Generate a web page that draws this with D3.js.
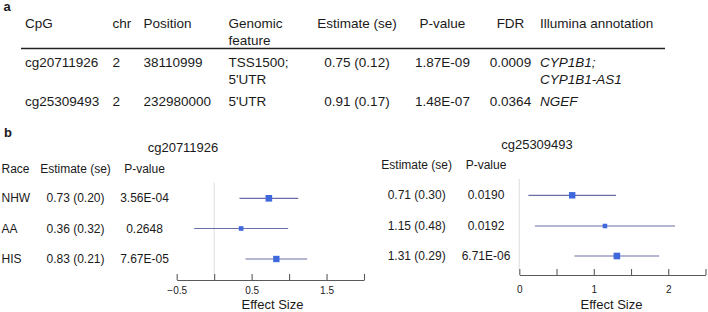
<!DOCTYPE html>
<html>
<head>
<meta charset="utf-8">
<script src="https://cdn.jsdelivr.net/npm/d3@7"></script>
<style>
  html, body { margin: 0; padding: 0; background: #fff; }
  svg { display: block; font-family: "Liberation Sans", Arial, Helvetica, sans-serif; }
</style>
</head>
<body>
<svg id="chart" width="708" height="312"></svg>
<script>
// ---------- Panel a: table data ----------
const tableHeaders = [["CpG"], ["chr"], ["Position"], ["Genomic", "feature"], ["Estimate (se)"], ["P-value"], ["FDR"], ["Illumina annotation"]];
const cpgIds = ["cg20711926", "cg25309493"];
const chromosomes = ["2", "2"];
const positions = ["38110999", "232980000"];
const genomicFeatures = [["TSS1500;", "5'UTR"], ["5'UTR"]];
const tableEstimates = [0.75, 0.91];
const tableSE = [0.12, 0.17];
const tablePValues = ["1.87E-09", "1.48E-07"];
const tableFDR = ["0.0009", "0.0364"];
const annotations = [["CYP1B1;", "CYP1B1-AS1"], ["NGEF"]];

// ---------- Panel b: forest plot data ----------
const races = ["NHW", "AA", "HIS"];
const est1 = [0.73, 0.36, 0.83];
const se1 = [0.20, 0.32, 0.21];
const pval1 = ["3.56E-04", "0.2648", "7.67E-05"];
const est2 = [0.71, 1.15, 1.31];
const se2 = [0.30, 0.48, 0.29];
const pval2 = ["0.0190", "0.0192", "6.71E-06"];
const ticks1 = [-0.5, 0, 0.5, 1, 1.5, 2];
const tickLabels1 = [-0.5, 0.5, 1.5];
const ticks2 = [0, 0.5, 1, 1.5, 2, 2.5];
const tickLabels2 = [0, 1, 2];

const svg = d3.select("#chart");
const textColor = "#1a1a1a";

// ---------- Panel a ----------
svg.append("text").attr("x", 3.5).attr("y", 6).attr("dominant-baseline", "central")
  .attr("font-size", 13).attr("font-weight", "bold").attr("fill", textColor).text("a");

const colX = [25, 112.5, 143.5, 228.5, 357, 442.5, 510.5, 540];
const colAnchor = ["start", "start", "start", "start", "middle", "middle", "middle", "start"];
const lineH = 17;
const headerY = 23.5;
const rowY = [62.5, 101];
const fs = 13.5;

const g = svg.append("g").attr("font-size", fs).attr("fill", textColor);

function cellText(x, y, lines, anchor, italic) {
  lines.forEach((t, i) => {
    g.append("text").attr("x", x).attr("y", y + i * lineH)
      .attr("dominant-baseline", "central").attr("text-anchor", anchor)
      .attr("font-style", italic ? "italic" : null).text(t);
  });
}

tableHeaders.forEach((h, i) => cellText(colX[i], headerY, h, colAnchor[i], false));
svg.append("line").attr("x1", 21).attr("x2", 665).attr("y1", 48.5).attr("y2", 48.5)
  .attr("stroke", "#222").attr("stroke-width", 1.3);

cpgIds.forEach((id, r) => {
  const y = rowY[r];
  cellText(colX[0], y, [id], colAnchor[0]);
  cellText(colX[1], y, [chromosomes[r]], colAnchor[1]);
  cellText(colX[2], y, [positions[r]], colAnchor[2]);
  cellText(colX[3], y, genomicFeatures[r], colAnchor[3]);
  cellText(colX[4], y, [`${tableEstimates[r].toFixed(2)} (${tableSE[r].toFixed(2)})`], colAnchor[4]);
  cellText(colX[5], y, [tablePValues[r]], colAnchor[5]);
  cellText(colX[6], y, [tableFDR[r]], colAnchor[6]);
  cellText(colX[7], y, annotations[r], colAnchor[7], true);
});

// ---------- Panel b ----------
svg.append("text").attr("x", 4).attr("y", 132.5).attr("dominant-baseline", "central")
  .attr("font-size", 13).attr("font-weight", "bold").attr("fill", textColor).text("b");

const boxColor = "#3f68dc";
const ciColor = "#6b6ea6";
const zeroColor = "#e4e4e4";
const axisColor = "#5a5a5a";

function forest(opts) {
  const { title, titleX, titleY, headerY, rowYs, baseline, est, se, pvals,
          showRace, estX, pX, domain, range, ticks, tickLabels, tickPad, xTitleX } = opts;
  const x = d3.scaleLinear().domain(domain).range(range);
  const maxW = d3.max(se, s => 1 / s);
  const size = d3.scalePow().exponent(0.75).domain([0, maxW]).range([0, 6.6]);
  const p = svg.append("g").attr("fill", textColor);

  p.append("text").attr("x", titleX).attr("y", titleY).attr("text-anchor", "middle")
    .attr("dominant-baseline", "central").attr("font-size", 13).text(title);

  const hdr = p.append("g").attr("font-size", 12);
  if (showRace) hdr.append("text").attr("x", 1.5).attr("y", headerY).attr("dominant-baseline", "central").text("Race");
  hdr.append("text").attr("x", estX).attr("y", headerY).attr("text-anchor", "middle").attr("dominant-baseline", "central").text("Estimate (se)");
  hdr.append("text").attr("x", pX).attr("y", headerY).attr("text-anchor", "middle").attr("dominant-baseline", "central").text("P-value");

  // zero reference line
  p.append("line").attr("x1", x(0)).attr("x2", x(0))
    .attr("y1", headerY + 14).attr("y2", baseline - 6)
    .attr("stroke", zeroColor).attr("stroke-width", 1.3);

  est.forEach((e, i) => {
    const y = rowYs[i];
    if (showRace) p.append("text").attr("x", 1.5).attr("y", y).attr("font-size", 12)
      .attr("dominant-baseline", "central").text(races[i]);
    p.append("text").attr("x", estX).attr("y", y).attr("font-size", 12).attr("text-anchor", "middle")
      .attr("dominant-baseline", "central").text(`${e.toFixed(2)} (${se[i].toFixed(2)})`);
    p.append("text").attr("x", pX).attr("y", y).attr("font-size", 12).attr("text-anchor", "middle")
      .attr("dominant-baseline", "central").text(pvals[i]);
    const lo = e - 1.96 * se[i], hi = e + 1.96 * se[i];
    p.append("line").attr("x1", x(lo)).attr("x2", x(hi)).attr("y1", y).attr("y2", y)
      .attr("stroke", ciColor).attr("stroke-width", 1.2);
    const s = size(1 / se[i]);
    p.append("rect").attr("x", x(e) - s / 2).attr("y", y - s / 2).attr("width", s).attr("height", s)
      .attr("fill", boxColor);
  });

  const axis = d3.axisBottom(x).tickValues(ticks)
    .tickFormat(d => tickLabels.includes(d) ? d3.format("")(d) : "")
    .tickSizeInner(-6).tickSizeOuter(0).tickPadding(tickPad);
  const ag = svg.append("g").attr("transform", `translate(0,${baseline})`).call(axis);
  ag.attr("font-family", null);
  ag.select(".domain").attr("stroke", axisColor).attr("stroke-width", 1.1);
  ag.selectAll(".tick line").attr("stroke", axisColor).attr("stroke-width", 1.1);
  ag.selectAll(".tick text").attr("font-size", 10).attr("fill", textColor);

  svg.append("text").attr("x", xTitleX).attr("y", 304)
    .attr("text-anchor", "middle").attr("dominant-baseline", "central")
    .attr("font-size", 13).attr("fill", textColor).text("Effect Size");
}

forest({
  title: "cg20711926", titleX: 183, titleY: 147, headerY: 168.5,
  rowYs: [198.3, 228.5, 259], baseline: 280,
  est: est1, se: se1, pvals: pval1, showRace: true, estX: 75.5, pX: 144.5,
  domain: [-0.5, 2], range: [176.7, 364], ticks: ticks1, tickLabels: tickLabels1,
  tickPad: 6.5, xTitleX: 272.5
});

forest({
  title: "cg25309493", titleX: 537, titleY: 144, headerY: 165,
  rowYs: [195.3, 226, 256], baseline: 275,
  est: est2, se: se2, pvals: pval2, showRace: false, estX: 416.7, pX: 486,
  domain: [0, 2.5], range: [519.3, 705.5], ticks: ticks2, tickLabels: tickLabels2,
  tickPad: 10.5, xTitleX: 611.5
});
</script>
</body>
</html>
